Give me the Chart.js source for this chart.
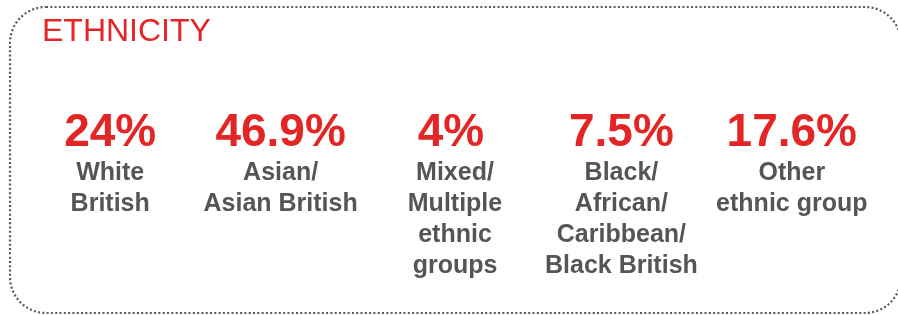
<!DOCTYPE html>
<html>
<head>
<meta charset="utf-8">
<script src="https://cdn.jsdelivr.net/npm/chart.js@4.4.1/dist/chart.umd.min.js"></script>
<style>
    html, body { margin: 0; padding: 0; background: #fff; }
    canvas { display: block; }
</style>
</head>
<body>
<canvas id="ethnicityChart" width="898" height="315"></canvas>
<script>
const chartTitle = 'ETHNICITY';
const groups = [
    ['White', 'British'],
    ['Asian/', 'Asian British'],
    ['Mixed/', 'Multiple', 'ethnic', 'groups'],
    ['Black/', 'African/', 'Caribbean/', 'Black British'],
    ['Other', 'ethnic group']
];
const shares = [24, 46.9, 4, 7.5, 17.6];

const RED = '#e32526';
const GREY = '#555555';

// draws the dotted frame, the title, the big percentages and the group names
const infoPlugin = {
    id: 'infoPlugin',
    afterDraw(chart) {
        const ctx = chart.ctx;
        const xScale = chart.scales.x;

        ctx.save();
        ctx.strokeStyle = '#595959';
        ctx.lineWidth = 2.2;
        ctx.setLineDash([2, 2.3]);
        ctx.beginPath();
        ctx.roundRect(10, 7, 891, 306, 36);
        ctx.stroke();
        ctx.restore();

        ctx.save();
        ctx.fillStyle = RED;
        ctx.font = '32px "Liberation Sans", Arial, sans-serif';
        ctx.textAlign = 'left';
        ctx.textBaseline = 'alphabetic';
        ctx.fillText(chartTitle, 42, 41);

        ctx.textAlign = 'center';
        shares.forEach((v, i) => {
            const x = xScale.getPixelForValue(i);
            ctx.fillStyle = RED;
            ctx.font = 'bold 46px "Liberation Sans", Arial, sans-serif';
            ctx.fillText(v + '%', x, 146);

            ctx.fillStyle = GREY;
            ctx.font = 'bold 25px "Liberation Sans", Arial, sans-serif';
            groups[i].forEach((line, j) => {
                ctx.fillText(line, x + (i === 2 ? 4 : 0), 180 + j * 31);
            });
        });
        ctx.restore();
    }
};

new Chart(document.getElementById('ethnicityChart').getContext('2d'), {
    type: 'bar',
    data: {
        labels: groups.map(g => g.join(' ')),
        datasets: [{
            data: shares,
            backgroundColor: 'transparent',
            borderWidth: 0
        }]
    },
    options: {
        responsive: false,
        animation: false,
        layout: { padding: { left: 25, right: 21, top: 0, bottom: 0 } },
        plugins: {
            legend: { display: false },
            tooltip: { enabled: false }
        },
        scales: {
            x: { display: false },
            y: { display: false, min: 0, max: 100 }
        }
    },
    plugins: [infoPlugin]
});
</script>
</body>
</html>
